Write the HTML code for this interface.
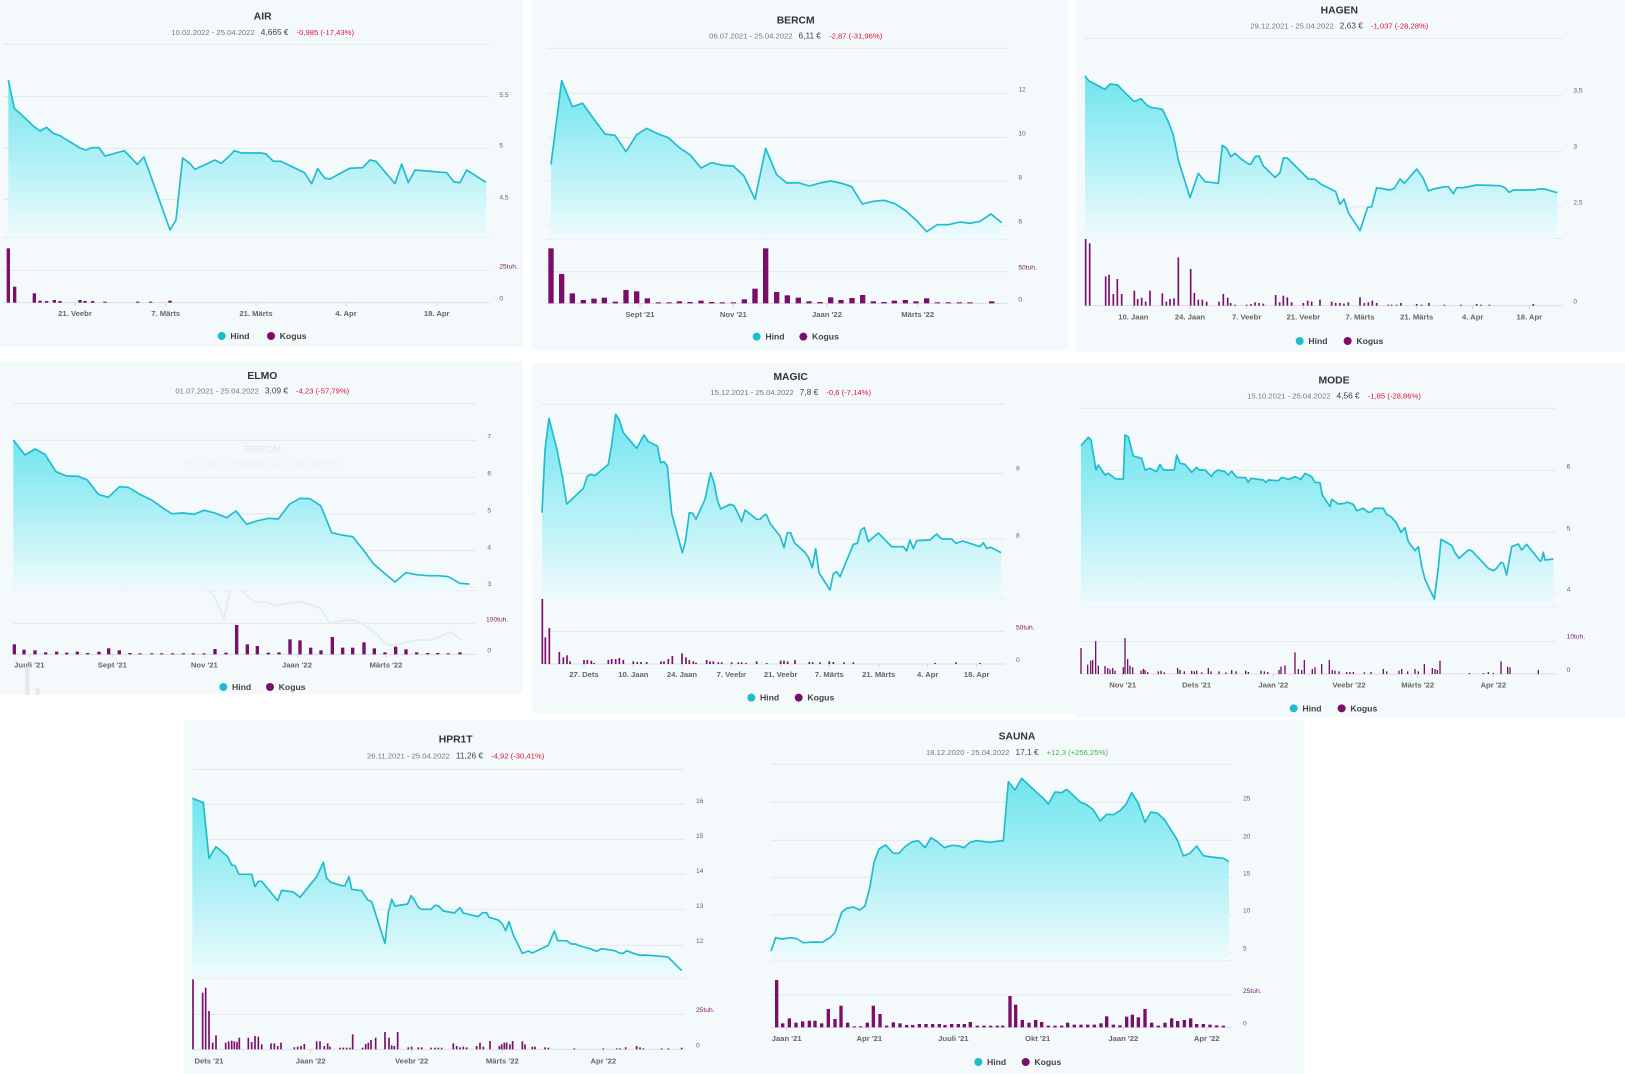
<!DOCTYPE html>
<html><head><meta charset="utf-8">
<style>
html,body{margin:0;padding:0;background:#fff;}
svg{display:block;font-family:"Liberation Sans",Arial,sans-serif;}
</style></head>
<body>
<svg id="s" width="1625" height="1074" viewBox="0 0 1625 1074" xmlns="http://www.w3.org/2000/svg">
<defs>
<linearGradient id="g" x1="0" y1="0" x2="0" y2="1">
<stop offset="0" stop-color="#6fe5ee"/>
<stop offset="1" stop-color="#effbfd"/>
</linearGradient>
</defs>
<rect x="0" y="0" width="523" height="347" fill="#f4f9fb"/>
<rect x="532" y="0" width="536" height="350" fill="#f4f9fb"/>
<rect x="1076" y="0" width="549" height="352" fill="#f4f9fb"/>
<rect x="0" y="361" width="523" height="333" fill="#f4f9fb"/>
<rect x="532" y="363" width="544" height="350" fill="#f4f9fb"/>
<rect x="1076" y="363" width="549" height="354" fill="#f4f9fb"/>
<rect x="184" y="720" width="560" height="354" fill="#f4f9fb"/>
<rect x="744" y="720" width="560" height="354" fill="#f4f9fb"/>
<g id="root"></g>
</svg>
<script>
var NS="http://www.w3.org/2000/svg";
function el(p,t,a,txt){var e=document.createElementNS(NS,t);for(var k in a)e.setAttribute(k,a[k]);if(txt!=null)e.textContent=txt;p.appendChild(e);return e;}
function P(a){var r=[];for(var i=0;i<a.length;i+=2)r.push([a[i],a[i+1]]);return r;}
function chart(c){
 var root=document.getElementById('root');
 var g=el(root,'g',{transform:'translate('+c.ox+','+c.oy+') scale(0.3333333)'});
 // grids
 c.grids.forEach(function(y){el(g,'line',{x1:c.gx[0],x2:c.gx[1],y1:y,y2:y,stroke:'#e2e8ec','stroke-width':3});});
 if(c.vg)el(g,'line',{x1:c.gx[0],x2:c.gx[1],y1:c.vg,y2:c.vg,stroke:'#e2e8ec','stroke-width':3});
 el(g,'line',{x1:c.gx[0],x2:c.gx[1],y1:c.vb,y2:c.vb,stroke:'#d8dee3','stroke-width':3});
 // ghost
 if(c.ghost){var gp=P(c.ghost);el(g,'polyline',{points:gp.map(function(p){return p.join(',')}).join(' '),fill:'none',stroke:'#dcefF2','stroke-width':5});}
 var pts=P(c.line);
 var d='M'+pts[0][0]+','+c.ab+' '+pts.map(function(p){return 'L'+p[0]+','+p[1]}).join(' ')+' L'+pts[pts.length-1][0]+','+c.ab+'Z';
 el(g,'path',{d:d,fill:'url(#g)'});
 el(g,'polyline',{points:pts.map(function(p){return p.join(',')}).join(' '),fill:'none',stroke:'#1fbccd','stroke-width':5,'stroke-linejoin':'round'});
 // bars
 var bw=c.bw||6;
 P(c.bars).forEach(function(b){el(g,'rect',{x:b[0]-bw/2,y:c.vb-b[1],width:bw,height:b[1],fill:'#7b0d6b'});});
 // ylabels
 c.yl.forEach(function(l){el(g,'text',{x:c.lx,y:l[0]+6,'font-size':20,fill:'#666'},l[1]);});
 el(g,'text',{x:c.tx||c.lx,y:c.tuh[0]+6,'font-size':20,fill:'#7a1a6a'},c.tuh[1]);
 el(g,'text',{x:c.lx,y:c.vb-6,'font-size':20,fill:'#666'},'0');
 // xlabels
 c.xl.forEach(function(l){
  el(g,'line',{x1:l[0],x2:l[0],y1:c.vb,y2:c.vb+10,stroke:'#ccd6dd','stroke-width':3});
  el(g,'text',{x:l[0],y:c.xy+8,'font-size':23,'font-weight':'bold',fill:'#666','text-anchor':'middle'},l[1]);});
 // title
 el(g,'text',{x:c.t[0],y:c.t[1]+10,'font-size':31,'font-weight':'bold',fill:'#333','text-anchor':'middle'},c.name);
 var st=el(g,'text',{x:c.t[0],y:c.sy+8,'font-size':23,'text-anchor':'middle',fill:'#777'});
 el(st,'tspan',{},c.sub[0]);
 el(st,'tspan',{dx:18,fill:'#444','font-size':25},c.sub[1]);
 el(st,'tspan',{dx:24,fill:c.up?'#3bb54a':'#d8153f'},c.sub[2]);
 if(c.leg){
  el(g,'circle',{cx:c.leg[0],cy:c.leg[2],r:12,fill:'#1fbccd'});
  el(g,'text',{x:c.leg[0]+26,y:c.leg[2]+9,'font-size':26,'font-weight':'bold',fill:'#444'},'Hind');
  el(g,'circle',{cx:c.leg[1],cy:c.leg[2],r:12,fill:'#7b0d6b'});
  el(g,'text',{x:c.leg[1]+26,y:c.leg[2]+9,'font-size':26,'font-weight':'bold',fill:'#444'},'Kogus');
 }
 if(c.extra)c.extra(g);
}
chart({name:'AIR',ox:0,oy:0,t:[788,48],sy:97,sub:['10.02.2022 - 25.04.2022','4,665 €','-0,985 (-17,43%)'],
gx:[10,1468],grids:[133,290,445,598,712],vg:811,vb:908,ab:712,lx:1498,
yl:[[285,'5,5'],[437,'5'],[592,'4,5']],tuh:[800,'25tuh.'],xy:940,
xl:[[225,'21. Veebr'],[497,'7. Märts'],[768,'21. Märts'],[1038,'4. Apr'],[1310,'18. Apr']],leg:[665,813,1008],bw:10,
line:[25,240,43,325,60,340,100,378,120,393,140,382,160,400,180,407,240,444,258,450,275,443,297,443,315,468,373,452,412,493,432,471,510,690,528,660,548,474,567,488,585,508,645,480,663,490,683,473,703,452,725,459,783,459,798,462,820,484,843,484,913,518,935,551,953,506,975,535,990,537,1048,505,1088,503,1110,480,1128,484,1185,551,1205,492,1225,548,1245,510,1340,518,1362,546,1380,548,1400,510,1458,547],
bars:[25,163,44,48,103,28,120,6,140,5,163,8,180,5,240,8,255,5,278,5,315,3,413,3,452,3,510,6]});
chart({name:'BERCM',ox:530,oy:0,t:[797,60],sy:107,sub:['06.07.2021 - 25.04.2022','6,11 €','-2,87 (-31,96%)'],
gx:[50,1432],grids:[145,280,412,543,677,718],vg:815,vb:910,ab:718,lx:1465,
yl:[[268,'12'],[400,'10'],[532,'8'],[665,'6']],tuh:[803,'50tuh.'],xy:943,
xl:[[330,"Sept '21"],[610,"Nov '21"],[891,"Jaan '22"],[1163,"Märts '22"]],leg:[680,820,1010],bw:16,
line:[63,493,95,242,127,320,158,310,190,355,225,402,255,406,288,455,320,404,350,385,385,402,415,413,448,443,480,464,513,504,545,488,578,496,610,498,642,528,675,598,707,445,740,524,770,549,805,548,838,558,870,549,902,543,935,550,965,560,997,612,1030,604,1062,601,1095,611,1128,633,1160,662,1190,695,1222,674,1255,674,1290,666,1320,670,1350,664,1383,642,1415,668],
bars:[63,165,95,88,127,30,160,10,192,14,223,17,256,5,288,40,320,36,352,15,385,3,417,3,448,6,480,4,513,8,545,4,577,3,610,3,643,12,675,44,707,165,740,34,772,24,805,17,837,6,870,4,902,18,933,10,966,16,998,25,1030,6,1062,4,1093,8,1126,10,1158,6,1190,15,1222,3,1255,3,1288,3,1320,3,1385,6]});
chart({name:'HAGEN',ox:1075,oy:0,t:[793,30],sy:78,sub:['29.12.2021 - 25.04.2022','2,63 €','-1,037 (-28,28%)'],
gx:[30,1462],grids:[115,287,455,621,715],vg:null,vb:917,ab:715,lx:1495,
yl:[[272,'3,5'],[440,'3'],[608,'2,5']],tuh:[-100,''],xy:950,
xl:[[175,'10. Jaan'],[345,'24. Jaan'],[515,'7. Veebr'],[685,'21. Veebr'],[855,'7. Märts'],[1025,'21. Märts'],[1193,'4. Apr'],[1363,'18. Apr']],leg:[674,818,1023],bw:5,
line:[30,228,42,243,90,268,105,252,128,255,150,278,178,305,198,296,215,315,228,322,262,328,280,365,295,405,310,480,345,593,370,520,390,545,430,550,442,436,455,445,467,470,480,460,500,478,520,492,528,492,540,470,552,468,565,498,600,532,615,518,625,474,637,474,700,537,720,538,737,552,782,575,795,613,807,597,820,638,855,692,878,622,890,620,905,563,945,570,958,565,975,537,988,550,1025,507,1045,535,1060,573,1075,567,1110,560,1120,560,1135,581,1145,563,1165,563,1205,555,1275,557,1290,563,1302,577,1315,570,1378,570,1390,567,1408,567,1447,578],
bars:[32,200,44,187,92,88,102,93,115,35,127,80,140,35,178,45,188,20,200,24,212,12,225,45,262,37,274,12,285,20,297,22,310,145,347,110,358,38,370,18,382,18,395,12,432,12,445,35,458,24,467,8,480,3,515,3,528,5,540,10,552,8,565,6,602,32,614,10,625,30,637,25,650,10,685,8,698,15,710,12,735,18,770,12,782,8,795,8,807,6,820,10,855,25,868,8,880,10,892,15,905,8,940,3,950,3,965,3,978,8,1025,5,1040,3,1062,8,1108,3,1158,3,1205,5,1218,3,1243,3,1375,5]});
chart({name:'ELMO',ox:0,oy:355,t:[787,62],sy:107,sub:['01.07.2021 - 25.04.2022','3,09 €','-4,23 (-57,79%)'],
gx:[40,1428],grids:[145,256,367,477,587,697,707],vg:805,vb:898,ab:707,lx:1462,
yl:[[245,'7'],[355,'6'],[466,'5'],[577,'4'],[687,'3']],tuh:[793,'100tuh.'],tx:1458,xy:930,
xl:[[88,"Juuli '21"],[337,"Sept '21"],[613,"Nov '21"],[891,"Jaan '22"],[1158,"Märts '22"]],leg:[670,810,996],bw:10,
ghost:[78,690,110,455,145,522,175,517,205,560,235,602,265,607,298,655,330,603,360,585,395,603,425,615,455,640,490,662,515,700,545,685,575,695,610,696,640,720,672,790,705,645,735,718,765,742,800,742,830,752,865,745,900,740,930,748,960,760,990,805,1025,797,1060,795,1090,808,1125,832,1160,870,1190,870,1220,862,1250,855,1290,856,1320,845,1350,830,1385,855],
line:[40,255,75,300,105,282,135,298,168,350,200,363,235,364,262,375,295,418,325,427,358,395,385,397,420,418,455,435,490,460,515,476,550,474,582,478,612,466,645,474,680,488,708,468,740,508,770,498,805,490,835,492,868,448,900,430,930,431,962,452,995,533,1025,540,1058,545,1090,585,1120,626,1150,652,1185,681,1218,653,1250,659,1285,662,1315,662,1345,665,1380,685,1408,687],
bars:[43,30,72,14,105,12,137,6,170,8,200,5,232,8,263,4,297,8,326,18,358,12,390,4,420,3,455,3,485,3,518,3,550,3,580,3,612,3,645,16,678,5,710,88,742,30,772,25,805,5,837,6,870,45,900,42,932,20,963,12,997,52,1028,20,1058,20,1092,36,1123,18,1155,6,1187,23,1218,15,1250,6,1283,4,1313,4,1345,3,1380,6],
extra:function(g){
 el(g,'text',{x:787,y:292,'font-size':31,'font-weight':'bold',fill:'#e8eef1','text-anchor':'middle'},'BERCM');
 el(g,'text',{x:787,y:333,'font-size':22,fill:'#edf1f3','text-anchor':'middle'},'06.07.2021 - 25.04.2022   6,11 €   -2,87 (-31,96%)');
 el(g,'rect',{x:75,y:935,width:14,height:85,fill:'#ece6ee'});
 el(g,'rect',{x:107,y:1000,width:12,height:20,fill:'#ece6ee'});
}});
chart({name:'MAGIC',ox:530,oy:360,t:[782,50],sy:97,sub:['15.12.2021 - 25.04.2022','7,8 €','-0,6 (-7,14%)'],
gx:[36,1425],grids:[133,340,537,715],vg:814,vb:912,ab:715,lx:1458,
yl:[[326,'9'],[527,'8']],tuh:[803,'50tuh.'],xy:943,
xl:[[162,'27. Dets'],[310,'10. Jaan'],[456,'24. Jaan'],[604,'7. Veebr'],[752,'21. Veebr'],[898,'7. Märts'],[1046,'21. Märts'],[1193,'4. Apr'],[1340,'18. Apr']],leg:[664,806,1013],bw:5,
line:[36,458,45,270,57,175,80,265,98,355,110,432,125,418,160,385,172,348,182,343,195,347,235,313,245,255,257,163,268,180,280,218,320,265,342,225,355,245,382,258,392,308,402,305,412,318,425,460,457,578,467,540,478,458,488,460,498,478,525,418,542,338,552,368,562,420,572,447,600,433,612,437,620,452,635,485,645,450,680,478,690,478,705,463,710,465,720,490,750,528,762,563,772,518,782,518,793,548,825,577,835,592,847,623,857,566,867,638,900,690,910,641,920,635,930,650,970,553,982,550,993,510,1003,503,1015,545,1045,519,1085,560,1120,560,1130,573,1140,540,1150,566,1160,542,1200,540,1220,522,1235,537,1265,537,1278,550,1298,543,1350,560,1360,548,1370,565,1383,562,1413,578],
bars:[37,195,46,80,58,108,88,36,100,20,111,26,120,8,162,12,172,12,184,10,192,3,235,12,245,15,257,15,268,18,280,12,310,8,322,6,333,6,350,6,393,8,402,8,415,15,427,24,456,32,468,20,478,12,490,8,498,4,530,12,540,8,550,8,565,5,575,5,605,5,625,5,635,5,648,3,680,8,710,3,752,10,762,10,773,8,795,12,838,6,848,5,870,5,898,8,910,6,942,5,970,5,1215,3,1278,5,1350,3]});
chart({name:'MODE',ox:1075,oy:360,t:[777,60],sy:107,sub:['15.10.2021 - 25.04.2022','4,56 €','-1,85 (-28,86%)'],
gx:[18,1442],grids:[145,331,517,700,742],vg:845,vb:942,ab:742,lx:1475,
yl:[[320,'6'],[505,'5'],[688,'4']],tuh:[830,'10tuh.'],xy:975,
xl:[[143,"Nov '21"],[365,"Dets '21"],[595,"Jaan '22"],[822,"Veebr '22"],[1028,"Märts '22"],[1255,"Apr '22"]],leg:[656,800,1045],bw:4,
line:[18,257,40,232,48,240,63,330,70,315,90,345,100,340,122,357,145,357,150,225,160,230,175,288,200,295,210,330,225,325,245,335,255,313,265,330,298,330,305,285,315,310,330,313,350,337,365,322,372,330,390,330,400,340,410,350,415,340,428,330,450,335,460,345,470,333,485,352,512,353,520,367,528,355,565,360,572,367,580,360,610,362,620,352,640,358,660,350,678,358,690,340,710,350,720,367,735,368,742,405,765,440,770,418,790,432,810,430,815,426,835,433,845,452,865,445,880,457,890,455,898,445,925,445,935,463,950,472,965,490,978,517,990,503,1000,545,1020,572,1030,560,1040,618,1050,658,1078,717,1090,623,1098,538,1110,545,1130,556,1140,578,1152,595,1180,570,1190,572,1240,625,1255,632,1265,625,1278,607,1285,610,1295,645,1310,560,1330,552,1340,570,1355,553,1395,603,1400,600,1405,577,1410,600,1435,597],
bars:[18,78,38,28,47,40,53,42,62,98,70,25,90,24,98,18,105,14,113,18,120,10,145,20,150,108,158,45,165,25,173,20,198,10,205,15,210,12,218,6,250,8,258,10,268,5,308,18,315,12,328,8,350,10,358,8,365,10,380,5,400,18,408,8,432,8,453,5,470,12,483,8,512,10,520,6,558,10,568,8,578,6,612,12,618,22,630,26,660,65,670,15,680,12,688,42,712,15,720,20,740,30,763,42,772,12,780,10,792,8,815,6,825,6,835,6,868,5,888,6,925,15,935,8,972,10,980,15,998,8,1020,15,1030,8,1048,30,1072,18,1080,15,1087,12,1095,40,1183,3,1225,3,1240,6,1255,3,1278,38,1298,22,1305,20,1390,12]});
chart({name:'SAUNA',ox:745,oy:720,t:[816,48],sy:97,up:true,sub:['18.12.2020 - 25.04.2022','17,1 €','+12,3 (+256,25%)'],
gx:[78,1463],grids:[133,247,361,472,585,697,722],vg:825,vb:922,ab:722,lx:1494,
yl:[[235,'25'],[349,'20'],[460,'15'],[572,'10'],[686,'5']],tuh:[813,'25tuh.'],xy:955,
xl:[[125,"Jaan '21"],[373,"Apr '21"],[625,"Juuli '21"],[878,"Okt '21"],[1135,"Jaan '22"],[1385,"Apr '22"]],leg:[700,842,1026],bw:10,
line:[78,693,92,653,110,657,135,653,155,656,175,668,210,666,232,667,255,653,270,638,290,577,305,565,325,561,345,570,360,558,375,500,387,427,402,387,422,375,445,400,462,400,480,380,500,366,520,362,540,383,558,353,578,366,598,383,620,376,640,377,657,383,675,367,695,362,735,367,770,362,775,363,790,185,810,210,830,175,880,222,892,232,910,252,930,216,950,218,965,208,985,226,1005,246,1025,254,1045,269,1065,303,1085,283,1105,284,1125,272,1143,253,1160,218,1180,250,1200,307,1218,276,1238,280,1258,298,1278,330,1297,360,1315,408,1335,400,1355,378,1375,407,1398,411,1435,415,1452,425],
bars:[95,142,113,12,133,27,153,14,173,18,193,20,210,20,230,12,250,55,270,25,288,65,308,14,328,3,347,3,367,14,385,65,405,40,425,5,445,15,465,12,485,7,503,7,523,10,543,10,563,10,583,10,600,7,620,10,640,10,658,10,676,16,697,5,717,5,737,5,757,5,773,5,795,94,812,68,832,22,852,14,872,22,890,16,910,5,930,5,950,5,968,14,988,8,1008,8,1028,8,1048,8,1068,12,1085,33,1105,8,1125,6,1145,32,1162,38,1180,30,1200,55,1220,14,1240,5,1260,14,1280,27,1298,19,1318,22,1337,27,1355,10,1375,10,1395,8,1415,6,1435,5]});
chart({name:'HPR1T',ox:185,oy:720,t:[812,58],sy:107,sub:['26.11.2021 - 25.04.2022','11,26 €','-4,92 (-30,41%)'],
gx:[22,1500],grids:[148,253,358,463,568,676,775],vg:883,vb:988,ab:775,lx:1533,
yl:[[243,'16'],[348,'15'],[453,'14'],[558,'13'],[663,'12']],tuh:[870,'25tuh.'],xy:1022,
xl:[[72,"Dets '21"],[377,"Jaan '22"],[680,"Veebr '22"],[952,"Märts '22"],[1255,"Apr '22"]],leg:null,bw:5,
line:[22,235,55,248,72,415,93,380,128,410,140,435,150,437,162,463,200,463,210,500,220,484,230,484,278,542,290,511,325,516,345,532,395,470,415,427,425,475,438,487,470,497,480,497,492,470,500,508,530,512,548,540,560,545,600,670,610,578,620,538,630,558,668,552,678,527,688,540,700,562,710,568,738,568,750,556,760,557,775,573,808,579,825,563,835,579,880,590,893,578,905,578,912,592,940,600,952,612,962,632,972,605,985,645,1012,700,1030,693,1042,699,1090,676,1108,633,1118,662,1145,662,1158,672,1172,672,1185,678,1215,686,1235,694,1250,686,1290,692,1305,700,1315,700,1325,692,1345,700,1365,706,1380,705,1440,710,1450,712,1465,727,1490,752],
bars:[24,210,53,170,62,185,72,115,83,20,93,42,122,20,131,24,140,26,148,24,156,22,163,35,190,35,200,22,210,40,220,38,230,15,258,18,268,18,278,10,288,20,328,6,338,8,348,10,358,16,395,24,405,24,418,10,428,18,435,8,465,5,475,5,485,5,495,5,503,45,533,5,542,16,550,20,558,28,572,35,600,52,612,35,620,12,628,10,638,52,670,6,680,8,700,6,710,6,738,5,750,5,760,5,770,5,805,18,815,10,825,6,835,8,845,6,875,10,885,20,895,8,915,25,943,10,950,15,958,20,965,20,975,15,983,25,1012,24,1020,15,1042,8,1050,8,1080,6,1090,5,1168,3,1255,3,1295,3,1305,3,1322,6,1355,10,1365,6,1375,3,1430,3,1450,3,1490,5]});
</script>
</body></html>
